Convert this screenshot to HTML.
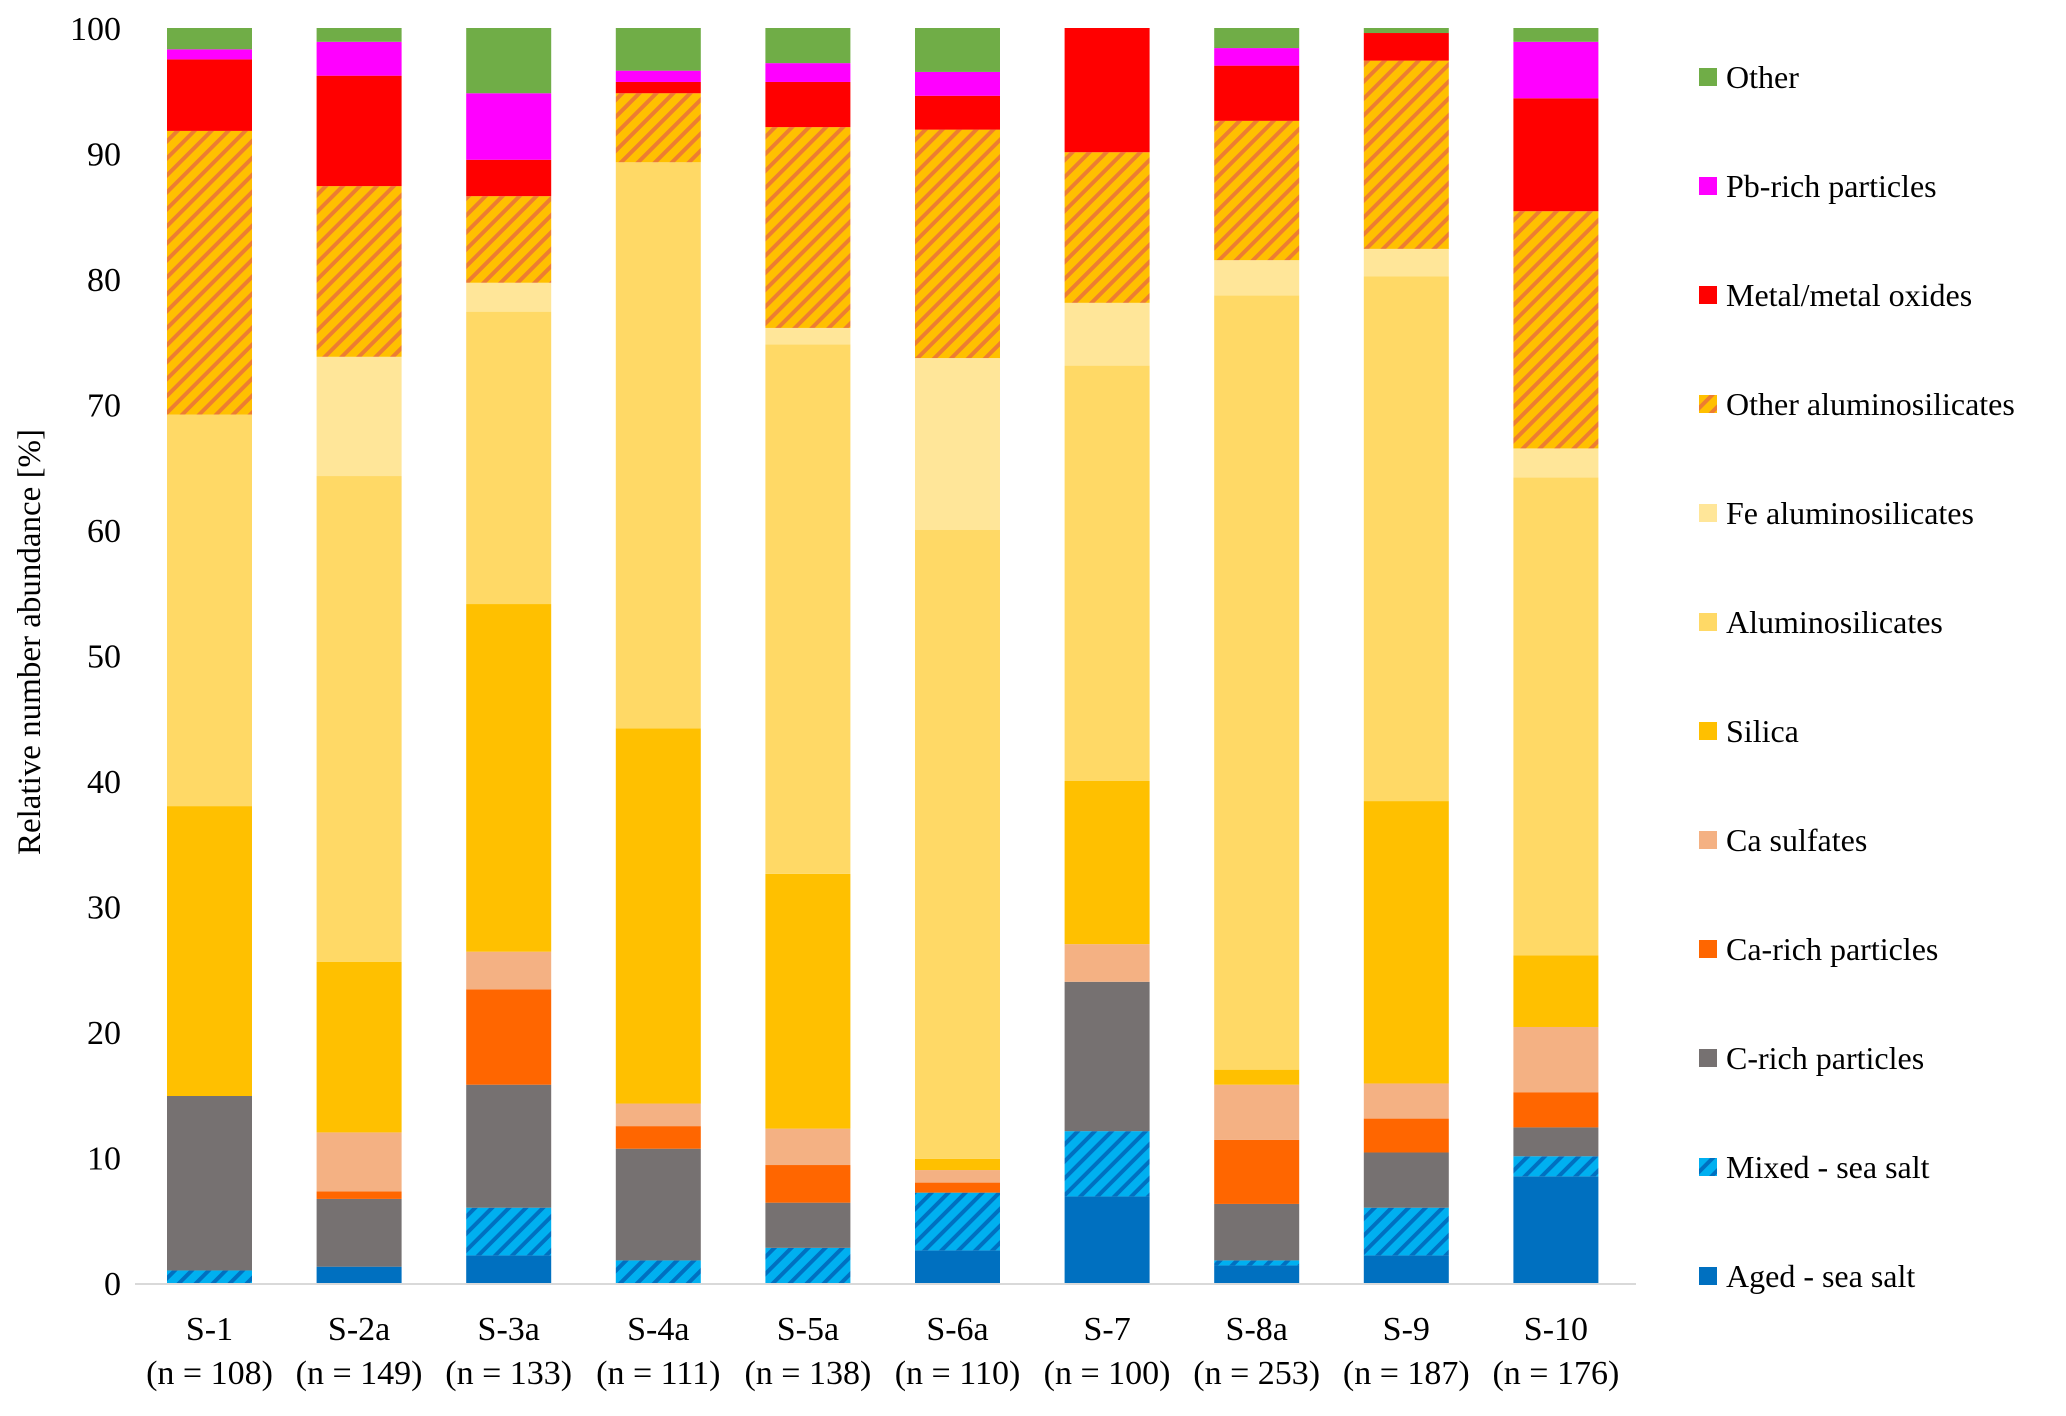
<!DOCTYPE html>
<html><head><meta charset="utf-8"><style>
html,body{margin:0;padding:0;background:#fff;}
svg, svg text{font-family:"Liberation Serif","Times New Roman",Times,"DejaVu Serif","Noto Serif CJK SC",serif;}
</style></head><body>
<svg id="chart" width="2066" height="1411" viewBox="0 0 2066 1411" xmlns="http://www.w3.org/2000/svg">
<defs>
<pattern id="pMixed" width="12" height="12" patternUnits="userSpaceOnUse" patternTransform="rotate(45)">
<rect width="12" height="12" fill="#00B0F0"/><rect width="4" height="12" fill="#0070C0"/></pattern>
<pattern id="pOtherAl" width="12" height="12" patternUnits="userSpaceOnUse" patternTransform="rotate(45)">
<rect width="12" height="12" fill="#FFC000"/><rect width="4" height="12" fill="#ED7D31"/></pattern>
</defs>
<g id="grid"></g>
<g id="bars"></g>
<g id="axes"></g>
<g id="legend"></g>
<text transform="translate(40,642) rotate(-90)" text-anchor="middle" font-size="33" fill="#000">Relative number abundance [%]</text>
</svg>
<script>
const categories = ["S-1","S-2a","S-3a","S-4a","S-5a","S-6a","S-7","S-8a","S-9","S-10"];
const nLabels = ["(n = 108)","(n = 149)","(n = 133)","(n = 111)","(n = 138)","(n = 110)","(n = 100)","(n = 253)","(n = 187)","(n = 176)"];
const seriesNames = ["Aged - sea salt","Mixed - sea salt","C-rich particles","Ca-rich particles","Ca sulfates","Silica","Aluminosilicates","Fe aluminosilicates","Other aluminosilicates","Metal/metal oxides","Pb-rich particles","Other"];
const agedSeaSalt = [0,1.3,2.2,0,0,2.6,6.9,1.4,2.2,8.5];
const mixedSeaSalt = [1.0,0,3.8,1.8,2.8,4.6,5.2,0.4,3.8,1.6];
const cRich = [13.9,5.4,9.8,8.9,3.6,0,11.9,4.5,4.4,2.3];
const caRich = [0,0.6,7.6,1.8,3.0,0.8,0,5.1,2.7,2.8];
const caSulfates = [0,4.7,3.0,1.8,2.9,1.0,3.0,4.4,2.8,5.2];
const silica = [23.1,13.6,27.7,29.9,20.3,0.9,13.0,1.2,22.5,5.7];
const aluminosilicates = [31.2,38.7,23.3,45.1,42.2,50.1,33.1,61.7,41.8,38.1];
const feAluminosilicates = [0,9.5,2.3,0,1.3,13.7,5.0,2.8,2.2,2.3];
const otherAluminosilicates = [22.6,13.6,6.9,5.5,16.0,18.2,12.0,11.1,15.0,18.9];
const metalOxides = [5.7,8.8,2.9,0.9,3.6,2.7,9.9,4.4,2.2,9.0];
const pbRich = [0.8,2.7,5.3,0.9,1.5,1.9,0,1.4,0,4.5];
const other = [1.7,1.1,5.2,3.4,2.8,3.5,0,1.6,0.4,1.1];
const yTicks = [0,10,20,30,40,50,60,70,80,90,100];

const series = [agedSeaSalt,mixedSeaSalt,cRich,caRich,caSulfates,silica,aluminosilicates,feAluminosilicates,otherAluminosilicates,metalOxides,pbRich,other];
const fills = ["#0070C0","url(#pMixed)","#767171","#FF6600","#F4B183","#FFC000","#FFD966","#FFE699","url(#pOtherAl)","#FF0000","#FF00FF","#70AD47"];
const slugs = ["aged-sea-salt","mixed-sea-salt","c-rich","ca-rich","ca-sulfates","silica","aluminosilicates","fe-aluminosilicates","other-aluminosilicates","metal-oxides","pb-rich","other"];
const NS="http://www.w3.org/2000/svg";
const Y0=1283, Y100=28, X0=209.5, STEP=149.6, BW=85;
const y = v => Y0 - (Y0-Y100)*v/100;
const x = i => X0 + i*STEP;
function mk(tag, attrs, parent, txt){const e=document.createElementNS(NS,tag);for(const k in attrs)e.setAttribute(k,attrs[k]);if(txt!==undefined)e.textContent=txt;parent.appendChild(e);return e;}
const bars=document.getElementById('bars'), axes=document.getElementById('axes'), legend=document.getElementById('legend');
categories.forEach((c,i)=>{
  let acc=0;
  series.forEach((s,k)=>{
    const v=s[i]; if(v<=0) return;
    const r=mk('rect',{x:x(i)-BW/2,y:y(acc+v),width:BW,height:y(acc)-y(acc+v),fill:fills[k]},bars);
    
    
    acc+=v;
  });
  const t1=mk('text',{x:x(i),y:1340,'text-anchor':'middle','font-size':34,fill:'#000'},axes,c);
  
  
  const t2=mk('text',{x:x(i),y:1384,'text-anchor':'middle','font-size':34,fill:'#000'},axes,nLabels[i]);
  
  
});
const ax=mk('line',{x1:135,x2:1636,y1:Y0+1,y2:Y0+1,stroke:'#D9D9D9','stroke-width':2},axes);


yTicks.forEach(v=>{
  const t=mk('text',{x:121,y:y(v)+12,'text-anchor':'end','font-size':34,fill:'#000'},axes,String(v));
  
  
});
for(let k=series.length-1;k>=0;k--){
  const row=series.length-1-k, cy=77+row*109;
  const g=mk('g',{},legend);
  
  
  mk('rect',{x:1699,y:cy-9,width:18,height:18,fill:fills[k]},g);
  mk('text',{x:1726,y:cy+11,'font-size':32,fill:'#000'},g,seriesNames[k]);
}
</script>
</body></html>
